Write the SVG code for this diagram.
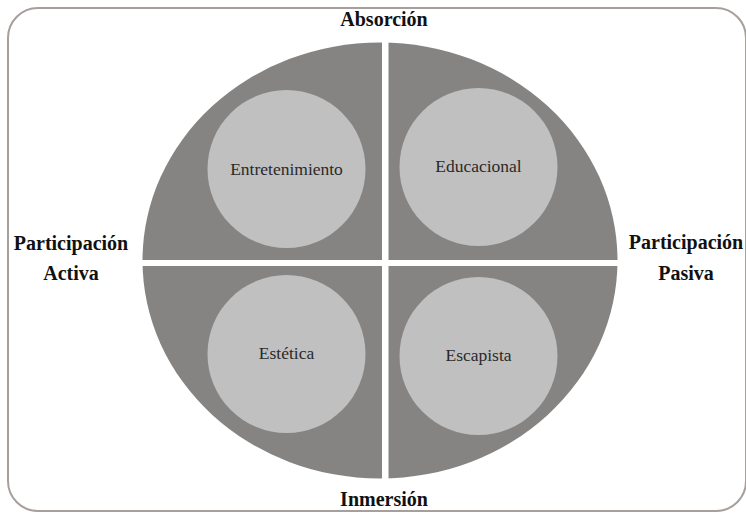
<svg xmlns="http://www.w3.org/2000/svg" width="746" height="513" viewBox="0 0 746 513">
<style>
.axis{font-family:'Liberation Serif','Times New Roman',Times,'DejaVu Serif',serif;font-weight:bold;font-size:20px;fill:#111;text-anchor:middle}
.inner{font-family:'Liberation Serif','Times New Roman',Times,'DejaVu Serif',serif;font-size:17.5px;fill:#2a2a2a;text-anchor:middle}
.circ{fill:#c1c0c0}
</style>
<rect x="8" y="8" width="738" height="503" rx="30" ry="30" fill="#fff" stroke="#a79f9c" stroke-width="2"/>
<g id="background">
<ellipse cx="380" cy="260.5" rx="237.5" ry="218" fill="#858483"/>
<rect x="382" y="30" width="6.5" height="460" fill="#fff"/>
<rect x="130" y="260" width="500" height="6" fill="#fff"/>
</g>
<g id="entretenimiento"><circle class="circ" cx="286.5" cy="169" r="79"/><text class="inner" x="286.5" y="175">Entretenimiento</text></g>
<g id="educacional"><circle class="circ" cx="478.5" cy="167" r="79"/><text class="inner" x="478.5" y="172">Educacional</text></g>
<g id="estetica"><circle class="circ" cx="286.5" cy="354" r="79"/><text class="inner" x="286.5" y="359">Estética</text></g>
<g id="escapista"><circle class="circ" cx="478.5" cy="356" r="79"/><text class="inner" x="478.5" y="361">Escapista</text></g>
<g id="absorcion"><text class="axis" x="384" y="26">Absorción</text></g>
<g id="inmersion"><text class="axis" x="384" y="506">Inmersión</text></g>
<g id="activa"><text class="axis" x="71" y="250">Participación</text><text class="axis" x="71" y="280">Activa</text></g>
<g id="pasiva"><text class="axis" x="686" y="249">Participación</text><text class="axis" x="686" y="280">Pasiva</text></g>
<g id="connectors"></g>
</svg>
